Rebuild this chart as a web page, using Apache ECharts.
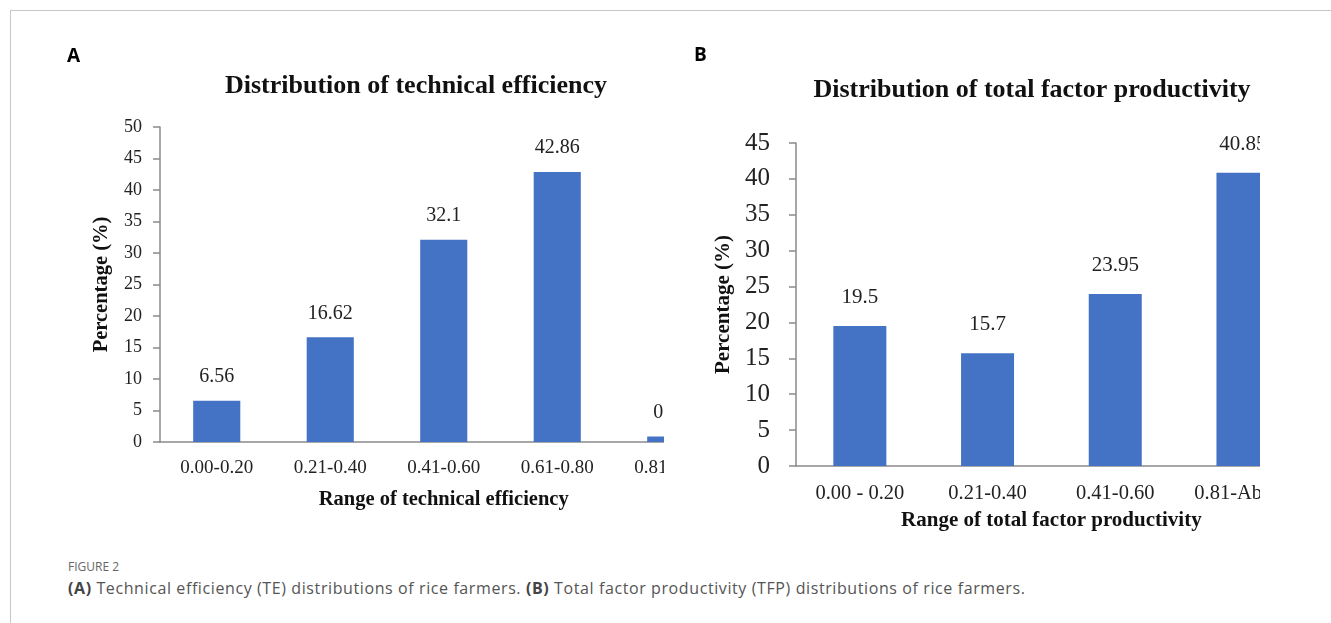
<!DOCTYPE html>
<html>
<head>
<meta charset="utf-8">
<script src="https://cdn.jsdelivr.net/npm/echarts@6/dist/echarts.min.js"></script>
<style>
  html, body { margin: 0; padding: 0; background: #fff; }
  body { width: 1331px; height: 623px; position: relative; overflow: hidden; }
  .frame-top { position: absolute; left: 10px; top: 10px; width: 1321px; height: 1px; background: #c8c8c8; }
  .frame-left { position: absolute; left: 10px; top: 10px; width: 1px; height: 613px; background: #c8c8c8; }
  .clip { position: absolute; top: 0; height: 545px; overflow: hidden; }
  .fig-no { position: absolute; left: 68px; top: 558px; font-family: "Open Sans", sans-serif; font-size: 12px; color: #666; }
  .caption { position: absolute; left: 68px; top: 577px; font-family: "Open Sans", sans-serif; font-size: 16px; letter-spacing: 0.6px; color: #555; white-space: nowrap; }
  .caption b { color: #444; }
</style>
</head>
<body>
<div class="frame-top"></div>
<div class="frame-left"></div>
<div class="clip" style="left:0;width:664px;"><div id="chartA" style="position:absolute;left:0;top:0;width:760px;height:545px;"></div></div>
<div class="clip" style="left:664px;width:596px;"><div id="chartB" style="position:absolute;left:0;top:0;width:700px;height:545px;"></div></div>
<div class="fig-no">FIGURE 2</div>
<div class="caption"><b>(A)</b> Technical efficiency (TE) distributions of rice farmers. <b>(B)</b> Total factor productivity (TFP) distributions of rice farmers.</div>
<script>
// 数据
var teRanges = ['0.00-0.20', '0.21-0.40', '0.41-0.60', '0.61-0.80', '0.81-1.00'];
var teValues = [6.56, 16.62, 32.1, 42.86, 0.86];
var tfpRanges = ['0.00 - 0.20', '0.21-0.40', '0.41-0.60', '0.81-Above'];
var tfpValues = [19.5, 15.7, 23.95, 40.85];

var serif = '"Liberation Serif", "Times New Roman", serif';
var barColor = '#4472C4';
var axisGray = '#8a8a8a';

// 每个面板的 option
function panelOption(cfg) {
  return {
    animation: false,
    title: {
      text: cfg.title,
      left: cfg.titleX,
      top: cfg.titleY,
      textAlign: 'center',
      textStyle: { fontFamily: serif, fontWeight: 'bold', fontSize: cfg.titleSize, color: '#111' }
    },
    graphic: [{
      type: 'text',
      left: cfg.letterX,
      top: cfg.letterY,
      style: { text: cfg.letter, font: 'bold 19px "Open Sans", Arial, sans-serif', fill: '#000' }
    }],
    grid: { left: cfg.grid[0], top: cfg.grid[1], width: cfg.grid[2], height: cfg.grid[3] },
    xAxis: {
      type: 'category',
      data: cfg.cats,
      name: cfg.xName,
      nameLocation: 'middle',
      nameGap: cfg.xNameGap,
      nameTextStyle: { fontFamily: serif, fontWeight: 'bold', fontSize: cfg.nameSize, color: '#111' },
      axisLine: { lineStyle: { color: axisGray, width: 1.5 } },
      axisTick: { show: false },
      axisLabel: { fontFamily: serif, fontSize: cfg.xLabelSize, color: '#222', margin: cfg.xLabelMargin, interval: 0 }
    },
    yAxis: {
      type: 'value',
      min: 0,
      max: cfg.max,
      interval: 5,
      name: 'Percentage (%)',
      nameLocation: 'middle',
      nameRotate: 90,
      nameGap: cfg.yNameGap,
      nameTextStyle: { fontFamily: serif, fontWeight: 'bold', fontSize: cfg.nameSize, color: '#111' },
      axisLine: { show: true, lineStyle: { color: axisGray, width: 1.5 } },
      axisTick: { show: true, length: 7, lineStyle: { color: axisGray, width: 1.5 } },
      splitLine: { show: false },
      axisLabel: { fontFamily: serif, fontSize: cfg.yLabelSize, color: '#222', margin: cfg.yLabelMargin }
    },
    series: [{
      type: 'bar',
      data: cfg.values,
      barWidth: '41.5%',
      itemStyle: { color: barColor },
      label: {
        show: true,
        position: 'top',
        distance: cfg.labelDist,
        fontFamily: serif,
        fontSize: cfg.valueSize,
        color: '#222'
      }
    }]
  };
}

var chartA = echarts.init(document.getElementById('chartA'));
chartA.setOption(panelOption({
  title: 'Distribution of technical efficiency',
  titleX: 411, titleY: 68, titleSize: 26,
  letter: 'A', letterX: 67, letterY: 47,
  grid: [160, 127, 567.5, 315],
  cats: teRanges, values: teValues, max: 50,
  xName: 'Range of technical efficiency', xNameGap: 47, yNameGap: 48,
  nameSize: 20.5, xLabelSize: 19, xLabelMargin: 17, yLabelSize: 18, yLabelMargin: 18,
  valueSize: 20, labelDist: 14
}));

var chartB = echarts.init(document.getElementById('chartB'));
chartB.setOption(panelOption({
  title: 'Distribution of total factor productivity',
  titleX: 363, titleY: 72, titleSize: 26,
  letter: 'B', letterX: 30, letterY: 46,
  grid: [132, 143, 510.8, 323],
  cats: tfpRanges, values: tfpValues, max: 45,
  xName: 'Range of total factor productivity', xNameGap: 44, yNameGap: 57,
  nameSize: 21, xLabelSize: 20.5, xLabelMargin: 17, yLabelSize: 25, yLabelMargin: 26,
  valueSize: 21, labelDist: 18
}));
</script>
</body>
</html>
